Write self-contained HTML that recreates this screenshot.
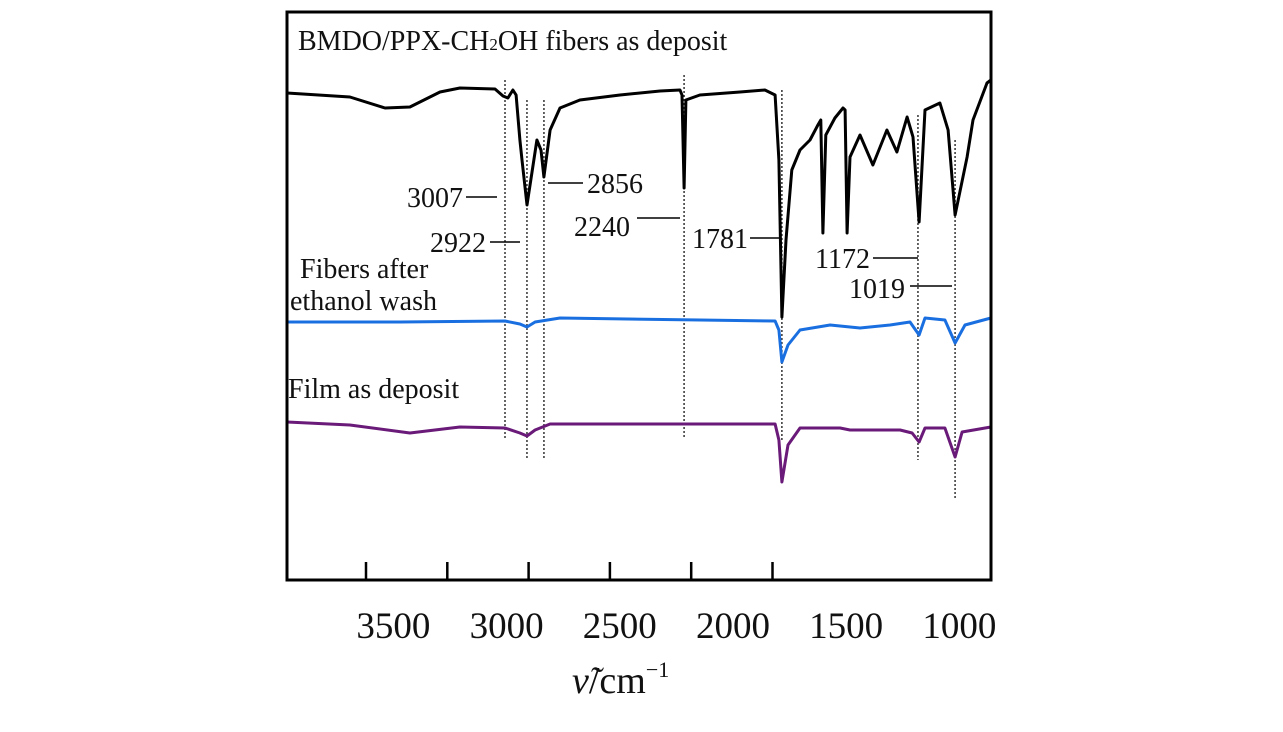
<!DOCTYPE html>
<html><head><meta charset="utf-8">
<style>
html,body{margin:0;padding:0;background:#fff;}
svg{display:block;}
text{font-family:"Liberation Serif",serif;fill:#111;}
</style></head>
<body>
<svg id="chart" width="1283" height="732" viewBox="0 0 1283 732" xmlns="http://www.w3.org/2000/svg"></svg>
<script>
// ---- data ----
const blackWn = [3970,3692,3537,3427,3294,3206,3051,3016,2994,2972,2958,2941,2932,2910,2866,2848,2835,2808,2764,2676,2499,2322,2234,2225,2216,2208,2146,1969,1859,1814,1797,1784,1766,1740,1704,1660,1625,1612,1603,1590,1550,1514,1505,1496,1483,1439,1382,1320,1276,1231,1205,1178,1152,1086,1050,1019,966,940,878,861];
const blackVal = [487,483,472,473,488,492,491,484,482,490,485,440,420,375,440,430,403,450,472,480,485,489,490,485,392,480,485,488,490,485,420,263,340,410,430,440,455,460,347,445,462,472,470,347,423,445,415,450,428,463,443,358,470,477,450,365,423,460,497,500];
const blueWn = [3970,3471,3007,2941,2910,2874,2764,2146,1814,1797,1784,1757,1704,1571,1439,1306,1218,1178,1152,1064,1019,975,861];
const blueVal = [258,258,259,256,253,258,262,260,259,250,218,235,250,255,252,255,258,245,262,260,237,255,262];
const purpleWn = [3970,3692,3427,3206,3007,2941,2910,2874,2808,2146,1814,1797,1784,1757,1704,1527,1483,1262,1209,1178,1152,1064,1019,988,861];
const purpleVal = [158,155,147,153,152,147,144,150,156,156,156,140,98,135,152,152,150,150,147,138,152,152,123,148,153];
const tickLabels = [3500,3000,2500,2000,1500,1000];
const peakLabels = ["3007","2922","2856","2240","1781","1172","1019"];
const peakPos = [3007,2910,2835,2216,1784,1183,1019];

// ---- scales ----
const x = w => 505 + (3007 - w) * 0.2264;
const y = v => 580 - v;
const tickX = v => 366 + (3500 - v) * 0.1626;

const svg = document.getElementById('chart');
const NS = 'http://www.w3.org/2000/svg';
function mk(tag, attrs, parent){ const e=document.createElementNS(NS,tag); for(const k in attrs) e.setAttribute(k,attrs[k]); (parent||svg).appendChild(e); return e; }

// dotted guide lines
const guideTop = [80,100,100,75,90,115,140];
const guideBot = [440,460,460,437,440,460,500];
peakPos.forEach((p,i)=>{
  const l = mk('line',{x1:x(p),x2:x(p),y1:guideTop[i],y2:guideBot[i],stroke:'#333','stroke-width':1.5,'stroke-dasharray':'2,2'});
  
  
});

// spectra
function series(wn, val, color, name){
  const d = wn.map((w,i)=>(i?'L':'M')+x(w).toFixed(1)+','+y(val[i]).toFixed(1)).join(' ');
  const p = mk('path',{d:d,fill:'none',stroke:color,'stroke-width':3,'stroke-linejoin':'round'});
  
  
}
series(blackWn, blackVal, '#000', 'spectrum-fibers-as-deposit');
series(blueWn, blueVal, '#1a6fe0', 'spectrum-ethanol-wash');
series(purpleWn, purpleVal, '#6a1a78', 'spectrum-film');

// frame
const fr = mk('rect',{x:287,y:12,width:704,height:568,fill:'none',stroke:'#000','stroke-width':3});



// ticks & labels
tickLabels.forEach(v=>{
  const t = mk('line',{x1:tickX(v),x2:tickX(v),y1:562,y2:580,stroke:'#000','stroke-width':2.5});
  
  
  const lb = mk('text',{x:x(v),y:638,'font-size':37,'text-anchor':'middle'});
  lb.textContent = v;
  
  
});

// peak annotation labels: [textX, textY, anchor, lineX1, lineX2, lineY]
const ann = [
  [463,207,'end',466,497,197],
  [486,252,'end',490,520,242],
  [587,193,'start',548,583,183],
  [630,236,'end',637,680,218],
  [748,248,'end',750,780,238],
  [870,268,'end',873,918,258],
  [905,298,'end',910,952,286]
];
ann.forEach((a,i)=>{
  const l = mk('line',{x1:a[3],x2:a[4],y1:a[5],y2:a[5],stroke:'#000','stroke-width':1.5});
  
  
  const t = mk('text',{x:a[0],y:a[1],'font-size':28,'text-anchor':a[2]});
  t.textContent = peakLabels[i];
  
  
});
</script>
<script>
(function(){
const svg=document.getElementById('chart');
const NS='http://www.w3.org/2000/svg';
function txt(x,y,s,size,name,html){
  const t=document.createElementNS(NS,'text');
  t.setAttribute('x',x);t.setAttribute('y',y);t.setAttribute('font-size',size);
  if(html){t.innerHTML=html;}else{t.textContent=s;}
  
  
  svg.appendChild(t);
}
txt(298,50,'',28,'label-fibers-as-deposit','BMDO/PPX-CH<tspan font-size="17">2</tspan>OH fibers as deposit');
txt(300,278,'Fibers after',28,'label-ethanol-wash-line1');
txt(290,310,'ethanol wash',28,'label-ethanol-wash-line2');
txt(288,398,'Film as deposit',28,'label-film-as-deposit');
txt(572,693,'',38,'x-axis-title','<tspan font-style="italic">ν̃</tspan>/cm<tspan font-size="22" dy="-16">−1</tspan>');
})();
</script>
</body></html>
